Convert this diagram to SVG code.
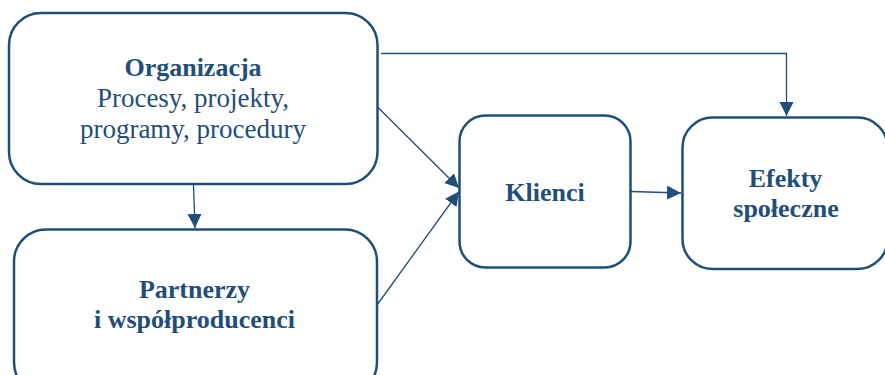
<svg xmlns="http://www.w3.org/2000/svg" width="885" height="375" viewBox="0 0 885 375">
  <style>
    .box { fill: #ffffff; stroke: #1f4e79; stroke-width: 2.5; }
    .lbl { font-family: 'Liberation Serif', 'Times New Roman', 'DejaVu Serif', serif; font-size: 26px; fill: #1f4e79; text-anchor: middle; }
    .b { font-weight: bold; }
    .r { font-size: 27px; }
    .conn { fill: none; stroke: #1f4e79; stroke-width: 1.3; }
  </style>
  <defs>
    <marker id="arrow" markerUnits="userSpaceOnUse" markerWidth="16" markerHeight="16" refX="14" refY="7" orient="auto">
      <path d="M0,0 L14,7 L0,14 Z" fill="#1f4e79"/>
    </marker>
  </defs>
  <rect width="885" height="375" fill="#ffffff"/>

  <g id="connectors">
    <path class="conn" d="M381,53.5 H786.5 V116" marker-end="url(#arrow)"/>
    <path class="conn" d="M377,106.5 L459,188" marker-end="url(#arrow)"/>
    <path class="conn" d="M377,305 L459,191.5" marker-end="url(#arrow)"/>
    <path class="conn" d="M631,191.5 L681,193" marker-end="url(#arrow)"/>
    <path class="conn" d="M193.5,185 L195,228" marker-end="url(#arrow)"/>
  </g>

  <g id="organizacja">
    <rect class="box" x="9" y="13" width="368.5" height="171" rx="32" ry="32"/>
    <text class="lbl b" x="193" y="76">Organizacja</text>
    <text class="lbl r" x="193" y="107">Procesy, projekty,</text>
    <text class="lbl r" x="193" y="138">programy, procedury</text>
  </g>

  <g id="partnerzy">
    <rect class="box" x="14" y="229.5" width="363" height="165" rx="32" ry="32"/>
    <text class="lbl b" x="194.5" y="298">Partnerzy</text>
    <text class="lbl b" x="194.5" y="328">i współproducenci</text>
  </g>

  <g id="klienci">
    <rect class="box" x="459.5" y="115.5" width="171" height="152" rx="26" ry="26"/>
    <text class="lbl b" x="545" y="201">Klienci</text>
  </g>

  <g id="efekty">
    <rect class="box" x="682.5" y="117.5" width="205" height="151.5" rx="30" ry="30"/>
    <text class="lbl b" x="785.5" y="187">Efekty</text>
    <text class="lbl b" x="786" y="217">społeczne</text>
  </g>
</svg>
